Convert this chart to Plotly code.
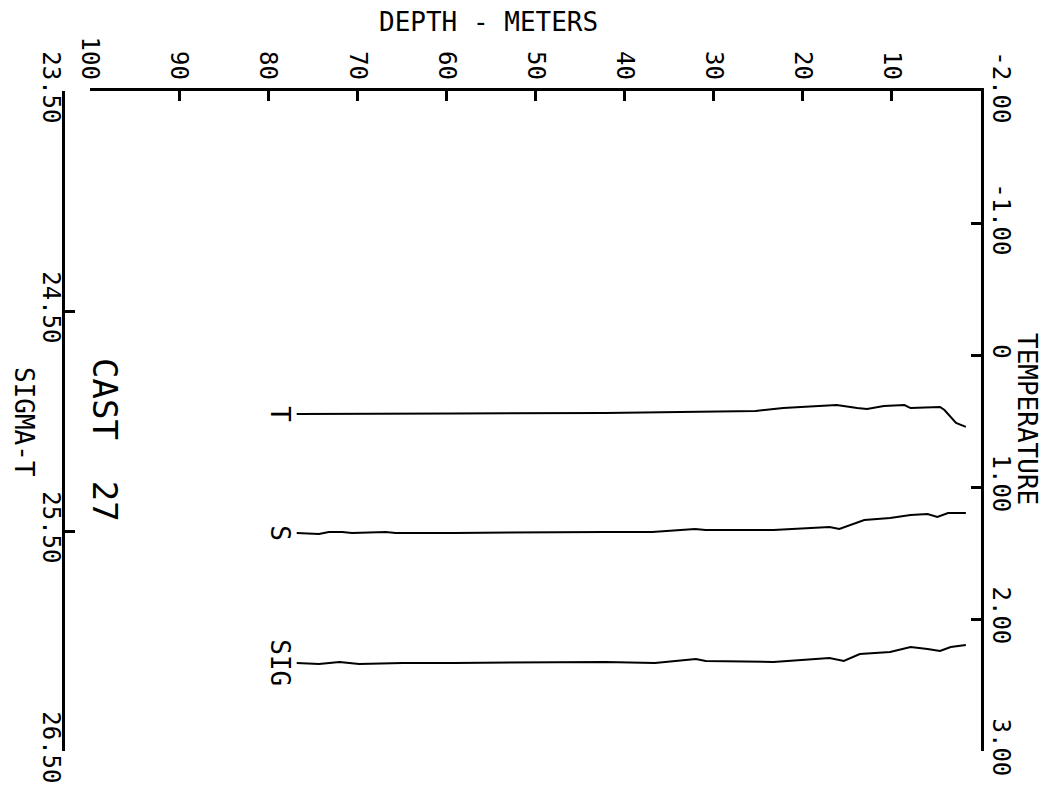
import plotly.graph_objects as go

# CTD cast 27 - profiles
t_depth = [76.8, 70.6, 59.2, 42.2, 30.9, 25.3, 22.2, 16.2, 13.9, 12.8, 10.9, 8.6, 7.9, 4.6, 4.1, 2.8, 1.7]
temperature = [0.447, 0.447, 0.443, 0.439, 0.432, 0.424, 0.402, 0.379, 0.402, 0.409, 0.386,
               0.379, 0.402, 0.394, 0.417, 0.515, 0.545]

s_depth = [76.8, 74.3, 73.2, 71.7, 70.6, 66.8, 65.7, 59.2, 42.2, 36.9, 32.1, 30.9, 23.3,
           17.0, 15.9, 14.3, 13.1, 10.2, 7.9, 6.0, 4.9, 3.7, 1.7]
salinity = [32.348, 32.356, 32.341, 32.341, 32.348, 32.341, 32.348, 32.348, 32.341, 32.341,
            32.318, 32.326, 32.326, 32.303, 32.318, 32.280, 32.250, 32.235, 32.212, 32.205,
            32.227, 32.197, 32.197]

sig_depth = [76.8, 74.3, 72.0, 69.8, 64.9, 59.2, 42.2, 36.6, 32.0, 30.9, 23.3, 17.0, 15.4,
             13.6, 10.2, 7.9, 6.0, 4.6, 3.4, 1.7]
sigma_t = [26.100, 26.105, 26.095, 26.105, 26.100, 26.100, 26.095, 26.100, 26.082, 26.091,
           26.095, 26.077, 26.091, 26.059, 26.050, 26.027, 26.036, 26.045, 26.027, 26.018]

depth_ticks = [100, 90, 80, 70, 60, 50, 40, 30, 20, 10]
temp_ticks = [-2, -1, 0, 1, 2, 3]
temp_labels = ["-2.00", "-1.00", "0", "1.00", "2.00", "3.00"]
sig_ticks = [23.5, 24.5, 25.5, 26.5]
sig_labels = ["23.50", "24.50", "25.50", "26.50"]

FONT = "DejaVu Sans Mono"
OFF = 8  # page body margin
W, H = 1053 - OFF, 803 - OFF
L, R, T, B = 63 - OFF, 1053 - 973 - OFF, 91 - OFF, 52
pw = W - L - R
ph = H - T - B

fig = go.Figure()
line = dict(color="black", width=2)
fig.add_trace(go.Scatter(x=t_depth, y=temperature, mode="lines", line=line, yaxis="y"))
fig.add_trace(go.Scatter(x=s_depth, y=salinity, mode="lines", line=line, yaxis="y3"))
fig.add_trace(go.Scatter(x=sig_depth, y=sigma_t, mode="lines", line=line, yaxis="y2"))

axis_common = dict(showgrid=False, zeroline=False, showline=True, linecolor="black", linewidth=2.5,
                   ticks="inside", ticklen=10, tickwidth=2.5, tickcolor="black",
                   tickfont=dict(family=FONT, size=24, color="black"), tickangle=90)

fig.update_layout(
    width=W, height=H, margin=dict(l=L, r=R, t=T, b=B),
    paper_bgcolor="white", plot_bgcolor="white", showlegend=False,
    xaxis=dict(range=[100, 0], domain=[(90 - 63) / pw, 1], side="top",
               tickvals=depth_ticks, ticktext=[str(v) for v in depth_ticks], **axis_common),
    yaxis=dict(range=[3, -2], side="right", anchor="x",
               tickvals=temp_ticks, ticktext=temp_labels, **axis_common),
    yaxis2=dict(range=[26.5, 23.5], side="left", anchor="free", position=0, overlaying="y",
                tickvals=sig_ticks, ticktext=sig_labels, ticklabelstandoff=-10, **axis_common),
    yaxis3=dict(range=[34, 29], overlaying="y", visible=False),
)

def px_x(p):
    return (p - OFF - L) / pw

def px_y(p):
    return (H - B - (p - OFF)) / ph

txt = dict(family=FONT, color="black")
anns = [
    dict(text="DEPTH - METERS", x=px_x(488), y=px_y(22), textangle=0, size=26),
    dict(text="TEMPERATURE", x=px_x(1027), y=px_y(419), textangle=90, size=26),
    dict(text="SIGMA-T", x=px_x(24), y=px_y(422), textangle=90, size=26),
    dict(text="CAST  27", x=px_x(105), y=px_y(440), textangle=90, size=34),
]
for a in anns:
    fig.add_annotation(text=a["text"], xref="paper", yref="paper", x=a["x"], y=a["y"],
                       xanchor="center", yanchor="middle", textangle=a["textangle"],
                       showarrow=False, font=dict(size=a["size"], **txt))

# curve labels at the deep end of each profile
for label, yref, yval in [("T", "y", temperature[0]), ("S", "y3", salinity[0]), ("SIG", "y2", sigma_t[0])]:
    fig.add_annotation(text=label, xref="x", yref=yref, x=t_depth[0], y=yval, xshift=-17,
                       xanchor="center", yanchor="middle", textangle=90, showarrow=False,
                       font=dict(size=26, **txt))

fig.write_html("out.html")
